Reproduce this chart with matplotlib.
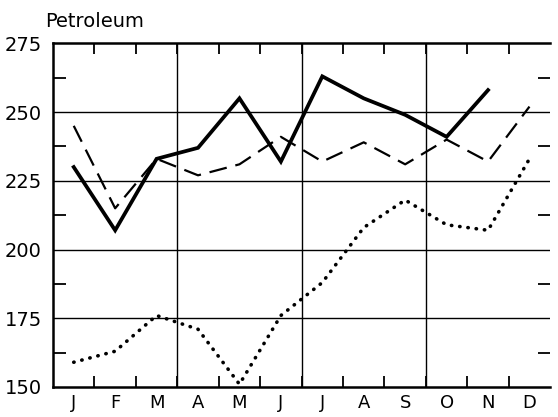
import numpy as np
import matplotlib.pyplot as plt
from matplotlib.ticker import FixedLocator

plt.rcParams['font.family'] = ['DejaVu Sans']

months = ['J', 'F', 'M', 'A', 'M', 'J', 'J', 'A', 'S', 'O', 'N', 'D']
solid = [230, 207, 233, 237, 255, 232, 263, 255, 249, 241, 258]
dashed = [245, 215, 233, 227, 231, 241, 232, 239, 231, 240, 232, 252]
dotted = [159, 163, 176, 171, 151, 176, 188, 208, 218, 209, 207, 233]

x = np.arange(12) + 0.5

fig = plt.figure(figsize=(5.58, 4.17), dpi=100)
ax = fig.add_axes([0.095, 0.072, 0.891, 0.824])

ax.plot(x[:len(solid)], solid, color='black', lw=2.7, solid_joinstyle='miter')
ax.plot(x, dashed, color='black', lw=1.6, dashes=(8, 4))
ax.plot(x, dotted, color='black', lw=2.6, linestyle=(0, (0.1, 2.2)),
        dash_capstyle='round')

ax.set_xlim(0, 12)
ax.set_ylim(150, 275)

# gitterlijnen
for v in [175, 200, 225, 250]:
    ax.axhline(v, color='black', lw=1.0)
for v in [3, 6, 9]:
    ax.axvline(v, color='black', lw=1.0)

ax.spines['right'].set_visible(False)
for s in ['left', 'top', 'bottom']:
    ax.spines[s].set_linewidth(1.8)

ax.xaxis.set_major_locator(FixedLocator(range(1, 12)))
ax.xaxis.set_minor_locator(FixedLocator(x))
ax.set_xticklabels([])
ax.set_xticklabels(months, minor=True, fontsize=13)
ax.tick_params(axis='x', which='major', direction='in', length=8, width=1.3,
               top=True, bottom=True)
ax.tick_params(axis='x', which='minor', length=0, pad=5)

ax.set_yticks([150, 175, 200, 225, 250, 275])
ax.set_yticklabels(['150', '175', '200', '225', '250', '275'], fontsize=14)
ax.yaxis.set_minor_locator(FixedLocator([162.5, 187.5, 212.5, 237.5, 262.5]))
ax.tick_params(axis='y', which='major', length=0, pad=8)
ax.tick_params(axis='y', which='minor', direction='in', length=9, width=1.3,
               left=True, right=True)

fig.text(0.08, 0.935, 'Petroleum', fontsize=14)

plt.savefig('out.png', dpi=100)
